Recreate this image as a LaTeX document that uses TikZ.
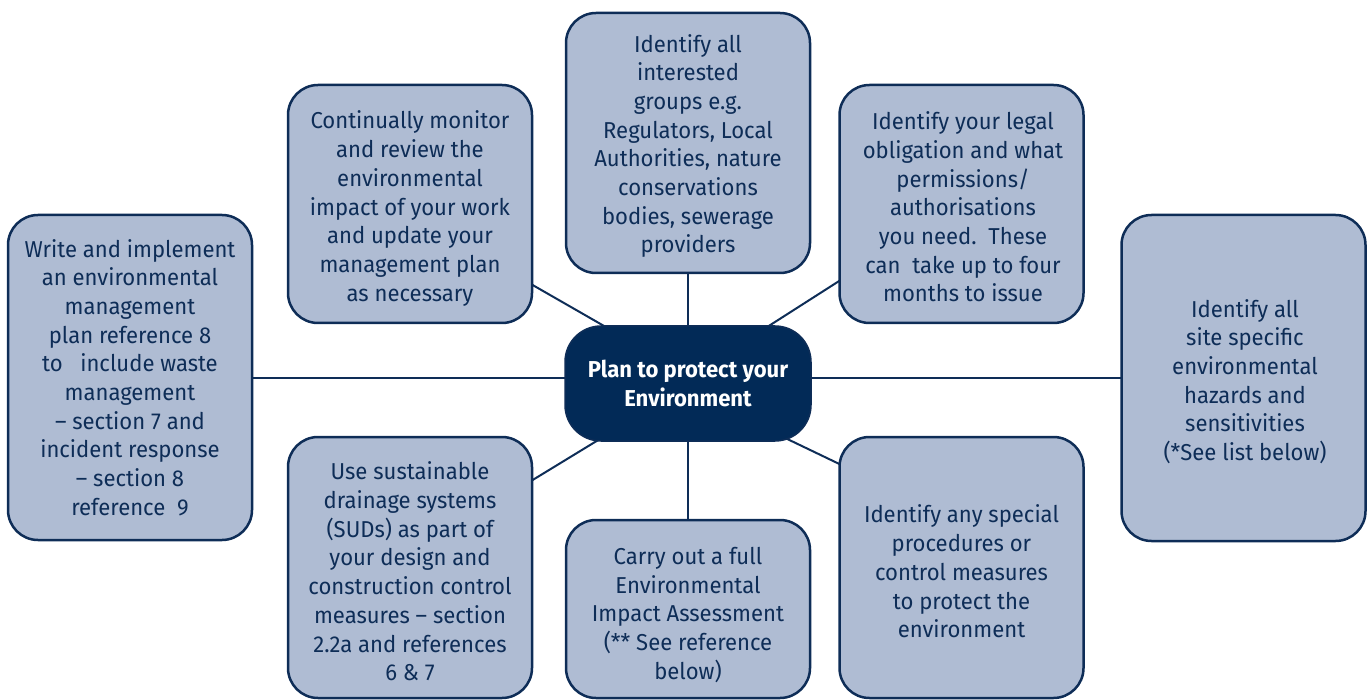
\documentclass[tikz,border=0pt]{standalone}
\usepackage{fontspec}
\setmainfont{Fira Sans}[FakeStretch=0.96]
\usetikzlibrary{backgrounds}
\definecolor{navy}{HTML}{0E2D57}
\definecolor{boxfill}{HTML}{AFBCD3}
\definecolor{hubfill}{HTML}{022A57}
\tikzset{
 leafbox/.style={draw=navy, line width=2.5pt, fill=boxfill, rounded corners=30pt, minimum width=244pt, inner sep=0pt},
 txt/.style={align=center, text=navy, font=\fontsize{23}{28.7}\selectfont, inner sep=0pt},
 hub/.style={draw=navy, line width=1.5pt, fill=hubfill, rounded corners=36pt, minimum width=246pt, minimum height=115pt, inner sep=0pt, align=center, text=white, font=\bfseries\fontsize{23}{28.7}\selectfont},
 link/.style={draw=navy, line width=2pt}
}
\begin{document}
\begin{tikzpicture}[x=1pt,y=-1pt]
\useasboundingbox (0,0) rectangle (1370,700);
% boxes
\node[leafbox, minimum height=325pt] (l)  at (130,377.5) {};
\node[leafbox, minimum height=238pt] (tl) at (410,204) {};
\node[leafbox, minimum height=260pt] (tc) at (688,143) {};
\node[leafbox, minimum height=238pt] (tr) at (961.5,204) {};
\node[leafbox, minimum height=326pt] (r)  at (1243.5,378) {};
\node[leafbox, minimum height=261pt] (bl) at (410,567.5) {};
\node[leafbox, minimum height=178pt] (bc) at (688,609) {};
\node[leafbox, minimum height=261pt] (br) at (961.5,567.5) {};
\node[hub] (c) at (688,383.5) {Plan to protect your\\Environment};
% texts
\node[txt] (lt) at (130,377.5) {Write and implement\\an environmental\\management\\plan reference 8\\to\ \ \ include waste\\management\\-- section 7 and\\incident response\\-- section 8\\reference\ \ 9};
\node[txt] (tlt) at (410,208.5) {Continually monitor\\and review the\\environmental\\impact of your work\\and update your\\management plan\\as necessary};
\node[txt] (tct) at (688,146) {Identify all\\interested\\groups e.g.\\Regulators, Local\\Authorities, nature\\conservations\\bodies, sewerage\\providers};
\node[txt] (trt) at (963,207) {Identify your legal\\obligation and what\\permissions/\\authorisations\\you need.\ \ These\\can\ \ take up to four\\months to issue};
\node[txt] (rt) at (1245,381.5) {Identify all\\site specific\\environmental\\hazards and\\sensitivities\\(*See list below)};
\node[txt] (blt) at (410,571.5) {Use sustainable\\drainage systems\\(SUDs) as part of\\your design and\\construction control\\measures -- section\\2.2a and references\\6 \& 7};
\node[txt] (bct) at (688,615) {Carry out a full\\Environmental\\Impact Assessment\\(** See reference\\below)};
\node[txt] (brt) at (961.5,571.5) {Identify any special\\procedures or\\control measures\\to protect the\\environment};
% connectors
\begin{scope}[on background layer]
\draw[link] (l.center) -- (l.center -| c.center);
\draw[link] (r.center) -- (r.center -| c.center);
\draw[link] (tc.center) -- (c.center);
\draw[link] (c.center) -- (bc.center);
\draw[link] ([shift={(-22,-51.5)}]tl.south east) -- ([shift={(61,12.9)}]c.north west);
\draw[link] ([shift={(21,-56.1)}]tr.south west) -- ([shift={(-60,11.6)}]c.north east);
\draw[link] ([shift={(-22,57.3)}]bl.north east) -- ([shift={(51,-12.1)}]c.south west);
\draw[link] ([shift={(31,42.6)}]br.north west) -- ([shift={(-40,-10.2)}]c.south east);
\end{scope}
\end{tikzpicture}
\end{document}
